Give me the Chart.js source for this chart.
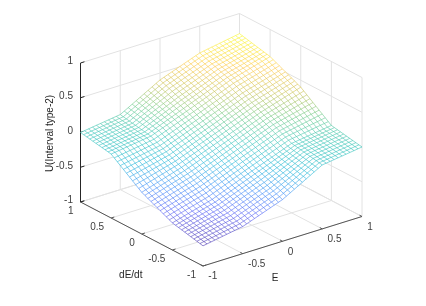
<!DOCTYPE html>
<html>
<head>
<meta charset="utf-8">
<style>body{margin:0;background:#fff}canvas{display:block}</style>
<script src="https://cdn.jsdelivr.net/npm/chart.js@4"></script>
</head>
<body>
<canvas id="chart" width="426" height="306"></canvas>
<script>
const eTicks = [-1, -0.5, 0, 0.5, 1];
const dTicks = [-1, -0.5, 0, 0.5, 1];
const uTicks = [-1, -0.5, 0, 0.5, 1];
const eValues = [-1,-0.95,-0.9,-0.85,-0.8,-0.75,-0.7,-0.65,-0.6,-0.55,-0.5,-0.45,-0.4,-0.35,-0.3,-0.25,-0.2,-0.15,-0.1,-0.05,0,0.05,0.1,0.15,0.2,0.25,0.3,0.35,0.4,0.45,0.5,0.55,0.6,0.65,0.7,0.75,0.8,0.85,0.9,0.95,1];
const dValues = [1,0.95,0.9,0.85,0.8,0.75,0.7,0.65,0.6,0.55,0.5,0.45,0.4,0.35,0.3,0.25,0.2,0.15,0.1,0.05,0,-0.05,-0.1,-0.15,-0.2,-0.25,-0.3,-0.35,-0.4,-0.45,-0.5,-0.55,-0.6,-0.65,-0.7,-0.75,-0.8,-0.85,-0.9,-0.95,-1];

// U in hundredths, one row per dE (top row dE=1), one column per E. estimated by eye
const uRows = [
[0,.8,1.6,2.4,3.2,4,4.8,5.6,6.4,7.2,8,11.2,14.4,17.6,20.8,24,27.2,30.4,33.6,36.8,40,42.1,44.2,46.3,48.4,50.5,52.6,54.7,56.8,58.9,61,62,63,64,65,66,67,68,69,70,71],
[-.8,0,.8,1.6,2.4,3.2,4,4.8,5.6,6.4,7.2,10.3,13.4,16.5,19.6,22.7,25.8,28.9,32,35.1,38.2,40.3,42.4,44.6,46.7,48.8,50.9,53,55.2,57.3,59.4,60.5,61.5,62.6,63.6,64.7,65.8,66.8,67.9,68.9,70],
[-1.6,-.8,0,.8,1.6,2.4,3.2,4,4.8,5.6,6.4,9.4,12.4,15.4,18.4,21.4,24.4,27.4,30.4,33.4,36.4,38.5,40.7,42.8,45,47.1,49.2,51.4,53.5,55.7,57.8,58.9,60,61.2,62.3,63.4,64.5,65.6,66.8,67.9,69],
[-2.4,-1.6,-.8,0,.8,1.6,2.4,3.2,4,4.8,5.6,8.5,11.4,14.3,17.2,20.1,23,25.9,28.8,31.7,34.6,36.8,38.9,41.1,43.2,45.4,47.6,49.7,51.9,54,56.2,57.4,58.6,59.7,60.9,62.1,63.3,64.5,65.6,66.8,68],
[-3.2,-2.4,-1.6,-.8,0,.8,1.6,2.4,3.2,4,4.8,7.6,10.4,13.2,16,18.8,21.6,24.4,27.2,30,32.8,35,37.2,39.3,41.5,43.7,45.9,48.1,50.2,52.4,54.6,55.8,57.1,58.3,59.6,60.8,62,63.3,64.5,65.8,67],
[-4,-3.2,-2.4,-1.6,-.8,0,.8,1.6,2.4,3.2,4,6.7,9.4,12.1,14.8,17.5,20.2,22.9,25.6,28.3,31,33.2,35.4,37.6,39.8,42,44.2,46.4,48.6,50.8,53,54.3,55.6,56.9,58.2,59.5,60.8,62.1,63.4,64.7,66],
[-4.8,-4,-3.2,-2.4,-1.6,-.8,0,.8,1.6,2.4,3.2,5.8,8.4,11,13.6,16.2,18.8,21.4,24,26.6,29.2,31.4,33.6,35.9,38.1,40.3,42.5,44.7,47,49.2,51.4,52.8,54.1,55.5,56.8,58.2,59.6,60.9,62.3,63.6,65],
[-5.6,-4.8,-4,-3.2,-2.4,-1.6,-.8,0,.8,1.6,2.4,4.9,7.4,9.9,12.4,14.9,17.4,19.9,22.4,24.9,27.4,29.6,31.9,34.1,36.4,38.6,40.8,43.1,45.3,47.6,49.8,51.2,52.6,54.1,55.5,56.9,58.3,59.7,61.2,62.6,64],
[-6.4,-5.6,-4.8,-4,-3.2,-2.4,-1.6,-.8,0,.8,1.6,4,6.4,8.8,11.2,13.6,16,18.4,20.8,23.2,25.6,27.9,30.1,32.4,34.6,36.9,39.2,41.4,43.7,45.9,48.2,49.7,51.2,52.6,54.1,55.6,57.1,58.6,60,61.5,63],
[-7.2,-6.4,-5.6,-4.8,-4,-3.2,-2.4,-1.6,-.8,0,.8,3.1,5.4,7.7,10,12.3,14.6,16.9,19.2,21.5,23.8,26.1,28.4,30.6,32.9,35.2,37.5,39.8,42,44.3,46.6,48.1,49.7,51.2,52.8,54.3,55.8,57.4,58.9,60.5,62],
[-8,-7.2,-6.4,-5.6,-4.8,-4,-3.2,-2.4,-1.6,-.8,0,2.2,4.4,6.6,8.8,11,13.2,15.4,17.6,19.8,22,24.3,26.6,28.9,31.2,33.5,35.8,38.1,40.4,42.7,45,46.6,48.2,49.8,51.4,53,54.6,56.2,57.8,59.4,61],
[-11.2,-10.3,-9.4,-8.5,-7.6,-6.7,-5.8,-4.9,-4,-3.1,-2.2,0,2.2,4.4,6.6,8.8,11,13.2,15.4,17.6,19.8,22.1,24.4,26.7,29,31.3,33.5,35.8,38.1,40.4,42.7,44.3,45.9,47.6,49.2,50.8,52.4,54,55.7,57.3,58.9],
[-14.4,-13.4,-12.4,-11.4,-10.4,-9.4,-8.4,-7.4,-6.4,-5.4,-4.4,-2.2,0,2.2,4.4,6.6,8.8,11,13.2,15.4,17.6,19.9,22.2,24.4,26.7,29,31.3,33.6,35.8,38.1,40.4,42,43.7,45.3,47,48.6,50.2,51.9,53.5,55.2,56.8],
[-17.6,-16.5,-15.4,-14.3,-13.2,-12.1,-11,-9.9,-8.8,-7.7,-6.6,-4.4,-2.2,0,2.2,4.4,6.6,8.8,11,13.2,15.4,17.7,20,22.2,24.5,26.8,29,31.3,33.6,35.8,38.1,39.8,41.4,43.1,44.7,46.4,48,49.7,51.4,53,54.7],
[-20.8,-19.6,-18.4,-17.2,-16,-14.8,-13.6,-12.4,-11.2,-10,-8.8,-6.6,-4.4,-2.2,0,2.2,4.4,6.6,8.8,11,13.2,15.5,17.7,20,22.2,24.5,26.8,29,31.3,33.5,35.8,37.5,39.2,40.8,42.5,44.2,45.9,47.6,49.2,50.9,52.6],
[-24,-22.7,-21.4,-20.1,-18.8,-17.5,-16.2,-14.9,-13.6,-12.3,-11,-8.8,-6.6,-4.4,-2.2,0,2.2,4.4,6.6,8.8,11,13.3,15.5,17.8,20,22.3,24.5,26.8,29,31.3,33.5,35.2,36.9,38.6,40.3,42,43.7,45.4,47.1,48.8,50.5],
[-27.2,-25.8,-24.4,-23,-21.6,-20.2,-18.8,-17.4,-16,-14.6,-13.2,-11,-8.8,-6.6,-4.4,-2.2,0,2.2,4.4,6.6,8.8,11,13.3,15.5,17.8,20,22.2,24.5,26.7,29,31.2,32.9,34.6,36.4,38.1,39.8,41.5,43.2,45,46.7,48.4],
[-30.4,-28.9,-27.4,-25.9,-24.4,-22.9,-21.4,-19.9,-18.4,-16.9,-15.4,-13.2,-11,-8.8,-6.6,-4.4,-2.2,0,2.2,4.4,6.6,8.8,11.1,13.3,15.5,17.8,20,22.2,24.4,26.7,28.9,30.6,32.4,34.1,35.9,37.6,39.3,41.1,42.8,44.6,46.3],
[-33.6,-32,-30.4,-28.8,-27.2,-25.6,-24,-22.4,-20.8,-19.2,-17.6,-15.4,-13.2,-11,-8.8,-6.6,-4.4,-2.2,0,2.2,4.4,6.6,8.8,11.1,13.3,15.5,17.7,19.9,22.2,24.4,26.6,28.4,30.1,31.9,33.6,35.4,37.2,38.9,40.7,42.4,44.2],
[-36.8,-35.1,-33.4,-31.7,-30,-28.3,-26.6,-24.9,-23.2,-21.5,-19.8,-17.6,-15.4,-13.2,-11,-8.8,-6.6,-4.4,-2.2,0,2.2,4.4,6.6,8.8,11,13.3,15.5,17.7,19.9,22.1,24.3,26.1,27.9,29.6,31.4,33.2,35,36.8,38.5,40.3,42.1],
[-40,-38.2,-36.4,-34.6,-32.8,-31,-29.2,-27.4,-25.6,-23.8,-22,-19.8,-17.6,-15.4,-13.2,-11,-8.8,-6.6,-4.4,-2.2,0,2.2,4.4,6.6,8.8,11,13.2,15.4,17.6,19.8,22,23.8,25.6,27.4,29.2,31,32.8,34.6,36.4,38.2,40],
[-42.1,-40.3,-38.5,-36.8,-35,-33.2,-31.4,-29.6,-27.9,-26.1,-24.3,-22.1,-19.9,-17.7,-15.5,-13.3,-11,-8.8,-6.6,-4.4,-2.2,0,2.2,4.4,6.6,8.8,11,13.2,15.4,17.6,19.8,21.5,23.2,24.9,26.6,28.3,30,31.7,33.4,35.1,36.8],
[-44.2,-42.4,-40.7,-38.9,-37.2,-35.4,-33.6,-31.9,-30.1,-28.4,-26.6,-24.4,-22.2,-19.9,-17.7,-15.5,-13.3,-11.1,-8.8,-6.6,-4.4,-2.2,0,2.2,4.4,6.6,8.8,11,13.2,15.4,17.6,19.2,20.8,22.4,24,25.6,27.2,28.8,30.4,32,33.6],
[-46.3,-44.6,-42.8,-41.1,-39.3,-37.6,-35.9,-34.1,-32.4,-30.6,-28.9,-26.7,-24.4,-22.2,-20,-17.8,-15.5,-13.3,-11.1,-8.8,-6.6,-4.4,-2.2,0,2.2,4.4,6.6,8.8,11,13.2,15.4,16.9,18.4,19.9,21.4,22.9,24.4,25.9,27.4,28.9,30.4],
[-48.4,-46.7,-45,-43.2,-41.5,-39.8,-38.1,-36.4,-34.6,-32.9,-31.2,-29,-26.7,-24.5,-22.2,-20,-17.8,-15.5,-13.3,-11,-8.8,-6.6,-4.4,-2.2,0,2.2,4.4,6.6,8.8,11,13.2,14.6,16,17.4,18.8,20.2,21.6,23,24.4,25.8,27.2],
[-50.5,-48.8,-47.1,-45.4,-43.7,-42,-40.3,-38.6,-36.9,-35.2,-33.5,-31.3,-29,-26.8,-24.5,-22.3,-20,-17.8,-15.5,-13.3,-11,-8.8,-6.6,-4.4,-2.2,0,2.2,4.4,6.6,8.8,11,12.3,13.6,14.9,16.2,17.5,18.8,20.1,21.4,22.7,24],
[-52.6,-50.9,-49.2,-47.6,-45.9,-44.2,-42.5,-40.8,-39.2,-37.5,-35.8,-33.5,-31.3,-29,-26.8,-24.5,-22.2,-20,-17.7,-15.5,-13.2,-11,-8.8,-6.6,-4.4,-2.2,0,2.2,4.4,6.6,8.8,10,11.2,12.4,13.6,14.8,16,17.2,18.4,19.6,20.8],
[-54.7,-53,-51.4,-49.7,-48,-46.4,-44.7,-43.1,-41.4,-39.8,-38.1,-35.8,-33.6,-31.3,-29,-26.8,-24.5,-22.2,-20,-17.7,-15.4,-13.2,-11,-8.8,-6.6,-4.4,-2.2,0,2.2,4.4,6.6,7.7,8.8,9.9,11,12.1,13.2,14.3,15.4,16.5,17.6],
[-56.8,-55.2,-53.5,-51.9,-50.2,-48.6,-47,-45.3,-43.7,-42,-40.4,-38.1,-35.8,-33.6,-31.3,-29,-26.7,-24.4,-22.2,-19.9,-17.6,-15.4,-13.2,-11,-8.8,-6.6,-4.4,-2.2,0,2.2,4.4,5.4,6.4,7.4,8.4,9.4,10.4,11.4,12.4,13.4,14.4],
[-58.9,-57.3,-55.7,-54,-52.4,-50.8,-49.2,-47.6,-45.9,-44.3,-42.7,-40.4,-38.1,-35.8,-33.5,-31.3,-29,-26.7,-24.4,-22.1,-19.8,-17.6,-15.4,-13.2,-11,-8.8,-6.6,-4.4,-2.2,0,2.2,3.1,4,4.9,5.8,6.7,7.6,8.5,9.4,10.3,11.2],
[-61,-59.4,-57.8,-56.2,-54.6,-53,-51.4,-49.8,-48.2,-46.6,-45,-42.7,-40.4,-38.1,-35.8,-33.5,-31.2,-28.9,-26.6,-24.3,-22,-19.8,-17.6,-15.4,-13.2,-11,-8.8,-6.6,-4.4,-2.2,0,.8,1.6,2.4,3.2,4,4.8,5.6,6.4,7.2,8],
[-62,-60.5,-58.9,-57.4,-55.8,-54.3,-52.8,-51.2,-49.7,-48.1,-46.6,-44.3,-42,-39.8,-37.5,-35.2,-32.9,-30.6,-28.4,-26.1,-23.8,-21.5,-19.2,-16.9,-14.6,-12.3,-10,-7.7,-5.4,-3.1,-.8,0,.8,1.6,2.4,3.2,4,4.8,5.6,6.4,7.2],
[-63,-61.5,-60,-58.6,-57.1,-55.6,-54.1,-52.6,-51.2,-49.7,-48.2,-45.9,-43.7,-41.4,-39.2,-36.9,-34.6,-32.4,-30.1,-27.9,-25.6,-23.2,-20.8,-18.4,-16,-13.6,-11.2,-8.8,-6.4,-4,-1.6,-.8,0,.8,1.6,2.4,3.2,4,4.8,5.6,6.4],
[-64,-62.6,-61.2,-59.7,-58.3,-56.9,-55.5,-54.1,-52.6,-51.2,-49.8,-47.6,-45.3,-43.1,-40.8,-38.6,-36.4,-34.1,-31.9,-29.6,-27.4,-24.9,-22.4,-19.9,-17.4,-14.9,-12.4,-9.9,-7.4,-4.9,-2.4,-1.6,-.8,0,.8,1.6,2.4,3.2,4,4.8,5.6],
[-65,-63.6,-62.3,-60.9,-59.6,-58.2,-56.8,-55.5,-54.1,-52.8,-51.4,-49.2,-47,-44.7,-42.5,-40.3,-38.1,-35.9,-33.6,-31.4,-29.2,-26.6,-24,-21.4,-18.8,-16.2,-13.6,-11,-8.4,-5.8,-3.2,-2.4,-1.6,-.8,0,.8,1.6,2.4,3.2,4,4.8],
[-66,-64.7,-63.4,-62.1,-60.8,-59.5,-58.2,-56.9,-55.6,-54.3,-53,-50.8,-48.6,-46.4,-44.2,-42,-39.8,-37.6,-35.4,-33.2,-31,-28.3,-25.6,-22.9,-20.2,-17.5,-14.8,-12.1,-9.4,-6.7,-4,-3.2,-2.4,-1.6,-.8,0,.8,1.6,2.4,3.2,4],
[-67,-65.8,-64.5,-63.3,-62,-60.8,-59.6,-58.3,-57.1,-55.8,-54.6,-52.4,-50.2,-48.1,-45.9,-43.7,-41.5,-39.3,-37.2,-35,-32.8,-30,-27.2,-24.4,-21.6,-18.8,-16,-13.2,-10.4,-7.6,-4.8,-4,-3.2,-2.4,-1.6,-.8,0,.8,1.6,2.4,3.2],
[-68,-66.8,-65.6,-64.5,-63.3,-62.1,-60.9,-59.7,-58.6,-57.4,-56.2,-54,-51.9,-49.7,-47.6,-45.4,-43.2,-41.1,-38.9,-36.8,-34.6,-31.7,-28.8,-25.9,-23,-20.1,-17.2,-14.3,-11.4,-8.5,-5.6,-4.8,-4,-3.2,-2.4,-1.6,-.8,0,.8,1.6,2.4],
[-69,-67.9,-66.8,-65.6,-64.5,-63.4,-62.3,-61.2,-60,-58.9,-57.8,-55.7,-53.5,-51.4,-49.2,-47.1,-45,-42.8,-40.7,-38.5,-36.4,-33.4,-30.4,-27.4,-24.4,-21.4,-18.4,-15.4,-12.4,-9.4,-6.4,-5.6,-4.8,-4,-3.2,-2.4,-1.6,-.8,0,.8,1.6],
[-70,-68.9,-67.9,-66.8,-65.8,-64.7,-63.6,-62.6,-61.5,-60.5,-59.4,-57.3,-55.2,-53,-50.9,-48.8,-46.7,-44.6,-42.4,-40.3,-38.2,-35.1,-32,-28.9,-25.8,-22.7,-19.6,-16.5,-13.4,-10.3,-7.2,-6.4,-5.6,-4.8,-4,-3.2,-2.4,-1.6,-.8,0,.8],
[-71,-70,-69,-68,-67,-66,-65,-64,-63,-62,-61,-58.9,-56.8,-54.7,-52.6,-50.5,-48.4,-46.3,-44.2,-42.1,-40,-36.8,-33.6,-30.4,-27.2,-24,-20.8,-17.6,-14.4,-11.2,-8,-7.2,-6.4,-5.6,-4.8,-4,-3.2,-2.4,-1.6,-.8,0]
];

// parula
const parula = [[62,38,168],[72,82,244],[46,135,247],[18,177,214],[40,192,180],[100,198,125],[195,189,70],[254,196,54],[249,251,21]];
const uMin = -0.71, uMax = 0.71;

function colorFor(u) {
    const t = Math.min(0.9999, Math.max(0, (u - uMin) / (uMax - uMin))) * (parula.length - 1);
    const k = Math.floor(t), f = t - k;
    const a = parula[k], b = parula[k + 1];
    return `rgb(${a[0] + (b[0] - a[0]) * f},${a[1] + (b[1] - a[1]) * f},${a[2] + (b[2] - a[2]) * f})`;
}

// orthographic view of the matlab axes box
function project(e, d, u) {
    return { x: 221.25 + 79.5 * e - 61.25 * d, y: 139.75 - 24.75 * e - 32 * d - 69.5 * u, u: u };
}

const GRID = '#e2e2e2', AXIS = '#555555';

function line3d(a, b, color, width, order) {
    return {
        data: [project(a[0], a[1], a[2]), project(b[0], b[1], b[2])],
        borderColor: color, borderWidth: width, pointRadius: 0, showLine: true, fill: false, order: order
    };
}

const datasets = [];

// walls and floor
eTicks.forEach(e => {
    datasets.push(line3d([e, -1, -1], [e, 1, -1], GRID, 1, 4));
    datasets.push(line3d([e, 1, -1], [e, 1, 1], GRID, 1, 4));
});
dTicks.forEach(d => {
    datasets.push(line3d([-1, d, -1], [1, d, -1], GRID, 1, 4));
    datasets.push(line3d([1, d, -1], [1, d, 1], GRID, 1, 4));
});
uTicks.forEach(u => {
    datasets.push(line3d([-1, 1, u], [1, 1, u], GRID, 1, 4));
    datasets.push(line3d([1, -1, u], [1, 1, u], GRID, 1, 4));
});

// dark axes and tick marks
datasets.push(line3d([-1, 1, -1], [-1, 1, 1], '#262626', 1, 3));
datasets.push(line3d([-1, -1, -1], [-1, 1, -1], AXIS, 1, 3));
datasets.push(line3d([-1, -1, -1], [1, -1, -1], AXIS, 1, 3));
uTicks.forEach(u => datasets.push(line3d([-1, 1, u], [-0.95, 1, u], '#262626', 1, 3)));
eTicks.forEach(e => datasets.push(line3d([e, -1, -1], [e, -0.96, -1], AXIS, 1, 3)));
dTicks.forEach(d => datasets.push(line3d([-1, d, -1], [-0.96, d, -1], AXIS, 1, 3)));

// white faces hide what is behind the mesh
const last = uRows.length - 1;
const outline = [];
eValues.forEach((e, c) => outline.push(project(e, dValues[0], uRows[0][c] / 100)));
dValues.forEach((d, r) => outline.push(project(eValues[last], d, uRows[r][last] / 100)));
eValues.slice().reverse().forEach((e, c) => outline.push(project(e, dValues[last], uRows[last][last - c] / 100)));
dValues.slice().reverse().forEach((d, r) => outline.push(project(eValues[0], d, uRows[last - r][0] / 100)));
datasets.push({
    data: outline, borderWidth: 0, borderColor: 'rgba(0,0,0,0)', backgroundColor: '#ffffff',
    pointRadius: 0, showLine: true, fill: 'shape', order: 2
});

// mesh
const meshSegment = { borderColor: ctx => colorFor((ctx.p0.raw.u + ctx.p1.raw.u) / 2) };
dValues.forEach((d, r) => {
    datasets.push({
        data: eValues.map((e, c) => project(e, d, uRows[r][c] / 100)),
        segment: meshSegment, borderWidth: 0.55, pointRadius: 0, showLine: true, fill: false, order: 1
    });
});
eValues.forEach((e, c) => {
    datasets.push({
        data: dValues.map((d, r) => project(e, d, uRows[r][c] / 100)),
        segment: meshSegment, borderWidth: 0.55, pointRadius: 0, showLine: true, fill: false, order: 1
    });
});

const tickText = {
    id: 'tickText',
    afterDraw(chart) {
        const c = chart.ctx, sx = chart.scales.x, sy = chart.scales.y;
        const put = (p, dx, dy, text, align, color) => {
            c.fillStyle = color;
            c.textAlign = align;
            c.textBaseline = 'middle';
            c.fillText(text, sx.getPixelForValue(p.x) + dx, sy.getPixelForValue(p.y) + dy);
        };
        c.save();
        c.font = '10px "Liberation Sans"';
        uTicks.forEach(u => put(project(-1, 1, u), -7.5, -1.5, String(u), 'right', '#404040'));
        dTicks.forEach(d => put(project(-1, d, -1), -7, 9, String(d), 'right', '#404040'));
        eTicks.forEach(e => put(project(e, -1, -1), 5.3, 10.7, String(e), 'left', '#404040'));
        put(project(0.0, -1, -1), -7.5, 37, 'E', 'center', '#262626');
        put(project(-1, 0, -1), -11, 41, 'dE/dt', 'center', '#262626');
        c.translate(sx.getPixelForValue(project(-1, 1, 0).x) - 30, sy.getPixelForValue(project(-1, 1, 0).y) + 1);
        c.rotate(-Math.PI / 2);
        c.textAlign = 'center';
        c.textBaseline = 'middle';
        c.fillStyle = '#262626';
        c.fillText('U(Interval type-2)', 0, 0);
        c.restore();
    }
};

new Chart(document.getElementById('chart').getContext('2d'), {
    type: 'scatter',
    data: { datasets: datasets },
    options: {
        responsive: false,
        animation: false,
        layout: { padding: 0 },
        plugins: { legend: { display: false }, tooltip: { enabled: false } },
        scales: {
            x: { type: 'linear', display: false, min: 0, max: 426 },
            y: { type: 'linear', display: false, min: 0, max: 306, reverse: true }
        }
    },
    plugins: [tickText]
});
</script>
</body>
</html>
